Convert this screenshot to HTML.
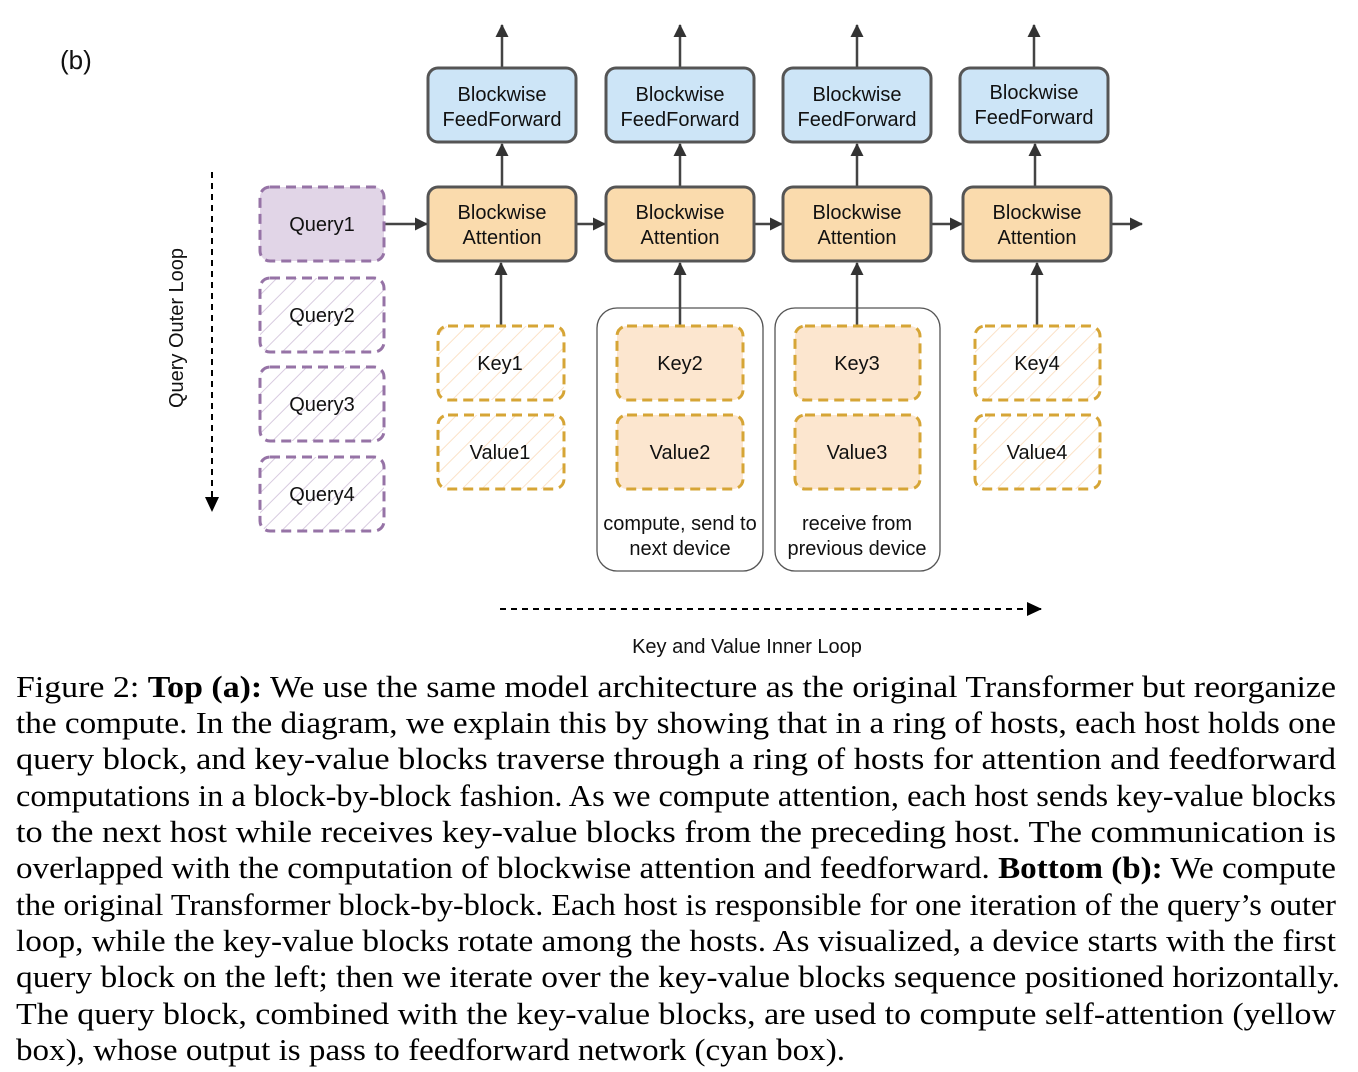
<!DOCTYPE html>
<html><head><meta charset="utf-8"><style>
html,body{margin:0;padding:0;background:#fff;}
svg{display:block;}
.d{font-family:"Liberation Sans",Arial,sans-serif;font-size:20px;fill:#111;text-anchor:middle;}
.c{font-family:"Liberation Serif","Times New Roman",serif;font-size:31px;fill:#000;}
</style></head><body>
<svg width="1358" height="1072" viewBox="0 0 1358 1072" xmlns="http://www.w3.org/2000/svg">
<defs>
<marker id="ah" markerWidth="13" markerHeight="13" refX="12" refY="6.5" orient="auto" markerUnits="userSpaceOnUse"><path d="M0,0 L13,6.5 L0,13 Z" fill="#333"/></marker>
<marker id="ahk" markerWidth="15" markerHeight="14" refX="14" refY="7" orient="auto" markerUnits="userSpaceOnUse"><path d="M0,0 L15,7 L0,14 Z" fill="#000"/></marker>
<pattern id="hp" width="14" height="14" patternUnits="userSpaceOnUse" patternTransform="rotate(45)"><rect width="14" height="14" fill="#fff"/><line x1="0" y1="0" x2="0" y2="14" stroke="#d8cbe0" stroke-width="2"/></pattern>
<pattern id="ho" width="14" height="14" patternUnits="userSpaceOnUse" patternTransform="rotate(45)"><rect width="14" height="14" fill="#fff"/><line x1="0" y1="0" x2="0" y2="14" stroke="#fbe2c8" stroke-width="2"/></pattern>
</defs>
<text x="60" y="69" style="font-family:'Liberation Sans',sans-serif;font-size:26px;fill:#111">(b)</text>

<rect x="597" y="308" width="166" height="263" rx="20" fill="#fff" stroke="#555" stroke-width="1.3"/>
<rect x="775" y="308" width="165" height="263" rx="20" fill="#fff" stroke="#555" stroke-width="1.3"/>

<g stroke="#444" stroke-width="2.5">
<line x1="502" y1="68" x2="502" y2="25" marker-end="url(#ah)"/>
<line x1="680" y1="68" x2="680" y2="25" marker-end="url(#ah)"/>
<line x1="857" y1="68" x2="857" y2="25" marker-end="url(#ah)"/>
<line x1="1034" y1="68" x2="1034" y2="25" marker-end="url(#ah)"/>
<line x1="502" y1="187" x2="502" y2="144" marker-end="url(#ah)"/>
<line x1="680" y1="187" x2="680" y2="144" marker-end="url(#ah)"/>
<line x1="857" y1="187" x2="857" y2="144" marker-end="url(#ah)"/>
<line x1="1035" y1="187" x2="1035" y2="144" marker-end="url(#ah)"/>
<line x1="385" y1="224" x2="427" y2="224" marker-end="url(#ah)"/>
<line x1="576" y1="224" x2="605" y2="224" marker-end="url(#ah)"/>
<line x1="754" y1="224" x2="782" y2="224" marker-end="url(#ah)"/>
<line x1="931" y1="224" x2="962" y2="224" marker-end="url(#ah)"/>
<line x1="1111" y1="224" x2="1142" y2="224" marker-end="url(#ah)"/>
<line x1="501" y1="326" x2="501" y2="263" marker-end="url(#ah)"/>
<line x1="680" y1="326" x2="680" y2="263" marker-end="url(#ah)"/>
<line x1="857" y1="326" x2="857" y2="263" marker-end="url(#ah)"/>
<line x1="1037" y1="326" x2="1037" y2="263" marker-end="url(#ah)"/>
</g>

<g fill="#cde5f7" stroke="#555" stroke-width="3">
<rect x="428" y="68" width="148" height="74" rx="10"/>
<rect x="606" y="68" width="148" height="74" rx="10"/>
<rect x="783" y="68" width="148" height="74" rx="10"/>
<rect x="960" y="68" width="148" height="74" rx="10"/>
</g>
<g fill="#fadbad" stroke="#555" stroke-width="3">
<rect x="428" y="187" width="148" height="74" rx="10"/>
<rect x="606" y="187" width="148" height="74" rx="10"/>
<rect x="783" y="187" width="148" height="74" rx="10"/>
<rect x="963" y="187" width="148" height="74" rx="10"/>
</g>
<g class="d">
<text x="502" y="101">Blockwise</text><text x="502" y="126">FeedForward</text>
<text x="680" y="101">Blockwise</text><text x="680" y="126">FeedForward</text>
<text x="857" y="101">Blockwise</text><text x="857" y="126">FeedForward</text>
<text x="1034" y="99">Blockwise</text><text x="1034" y="124">FeedForward</text>
<text x="502" y="219">Blockwise</text><text x="502" y="244">Attention</text>
<text x="680" y="219">Blockwise</text><text x="680" y="244">Attention</text>
<text x="857" y="219">Blockwise</text><text x="857" y="244">Attention</text>
<text x="1037" y="219">Blockwise</text><text x="1037" y="244">Attention</text>
</g>

<g stroke="#9673a6" stroke-width="3" stroke-dasharray="10,6">
<rect x="260" y="187" width="124" height="74" rx="10" fill="#e1d5e7"/>
<rect x="260" y="278" width="124" height="74" rx="10" fill="url(#hp)"/>
<rect x="260" y="367" width="124" height="74" rx="10" fill="url(#hp)"/>
<rect x="260" y="457" width="124" height="74" rx="10" fill="url(#hp)"/>
</g>
<g stroke="#d6a536" stroke-width="3" stroke-dasharray="10,6">
<rect x="438" y="326" width="126" height="74" rx="10" fill="url(#ho)"/>
<rect x="438" y="415" width="126" height="74" rx="10" fill="url(#ho)"/>
<rect x="617" y="326" width="126" height="74" rx="10" fill="#fce6cf"/>
<rect x="617" y="415" width="126" height="74" rx="10" fill="#fce6cf"/>
<rect x="795" y="326" width="125" height="74" rx="10" fill="#fce6cf"/>
<rect x="795" y="415" width="125" height="74" rx="10" fill="#fce6cf"/>
<rect x="975" y="326" width="125" height="74" rx="10" fill="url(#ho)"/>
<rect x="975" y="415" width="125" height="74" rx="10" fill="url(#ho)"/>
</g>
<g class="d">
<text x="322" y="231">Query1</text>
<text x="322" y="322">Query2</text>
<text x="322" y="411">Query3</text>
<text x="322" y="501">Query4</text>
<text x="500" y="370">Key1</text><text x="500" y="459">Value1</text>
<text x="680" y="370">Key2</text><text x="680" y="459">Value2</text>
<text x="857" y="370">Key3</text><text x="857" y="459">Value3</text>
<text x="1037" y="370">Key4</text><text x="1037" y="459">Value4</text>
<text x="680" y="530">compute, send to</text><text x="680" y="555">next device</text>
<text x="857" y="530">receive from</text><text x="857" y="555">previous device</text>
<text x="747" y="653">Key and Value Inner Loop</text>
<text transform="translate(183,328) rotate(-90)">Query Outer Loop</text>
</g>
<line x1="212" y1="172" x2="212" y2="511" stroke="#000" stroke-width="2" stroke-dasharray="6,5" marker-end="url(#ahk)"/>
<line x1="500" y1="609" x2="1041" y2="609" stroke="#000" stroke-width="2" stroke-dasharray="6,5" marker-end="url(#ahk)"/>

<g class="c">
<text x="16" y="697" textLength="1320" lengthAdjust="spacingAndGlyphs">Figure 2: <tspan font-weight="bold">Top (a):</tspan> We use the same model architecture as the original Transformer but reorganize</text>
<text x="16" y="733" textLength="1320" lengthAdjust="spacingAndGlyphs">the compute. In the diagram, we explain this by showing that in a ring of hosts, each host holds one</text>
<text x="16" y="769" textLength="1320" lengthAdjust="spacingAndGlyphs">query block, and key-value blocks traverse through a ring of hosts for attention and feedforward</text>
<text x="16" y="806" textLength="1320" lengthAdjust="spacingAndGlyphs">computations in a block-by-block fashion. As we compute attention, each host sends key-value blocks</text>
<text x="16" y="842" textLength="1320" lengthAdjust="spacingAndGlyphs">to the next host while receives key-value blocks from the preceding host. The communication is</text>
<text x="16" y="878" textLength="1320" lengthAdjust="spacingAndGlyphs">overlapped with the computation of blockwise attention and feedforward. <tspan font-weight="bold">Bottom (b):</tspan> We compute</text>
<text x="16" y="915" textLength="1320" lengthAdjust="spacingAndGlyphs">the original Transformer block-by-block. Each host is responsible for one iteration of the query’s outer</text>
<text x="16" y="951" textLength="1320" lengthAdjust="spacingAndGlyphs">loop, while the key-value blocks rotate among the hosts. As visualized, a device starts with the first</text>
<text x="16" y="987" textLength="1324" lengthAdjust="spacingAndGlyphs">query block on the left; then we iterate over the key-value blocks sequence positioned horizontally.</text>
<text x="16" y="1024" textLength="1320" lengthAdjust="spacingAndGlyphs">The query block, combined with the key-value blocks, are used to compute self-attention (yellow</text>
<text x="16" y="1060" textLength="829" lengthAdjust="spacingAndGlyphs">box), whose output is pass to feedforward network (cyan box).</text>
</g>
</svg>
</body></html>
